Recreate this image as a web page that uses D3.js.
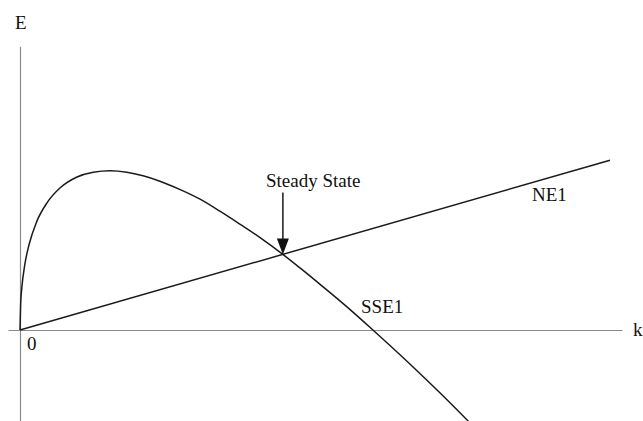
<!DOCTYPE html>
<html>
<head>
<meta charset="utf-8">
<script src="https://cdn.jsdelivr.net/npm/d3@7/dist/d3.min.js"></script>
<style>
  html, body { margin: 0; padding: 0; background: #fff; }
  svg { display: block; }
  text { font-family: "Liberation Serif", "Times New Roman", serif; fill: #111; }
</style>
</head>
<body>
<svg id="chart" width="643" height="421"></svg>
<script>
// Capital per worker (k) and the steady-state curve SSE1
const kValues   = [0, 0.01, 0.03, 0.08, 0.15, 0.28, 0.45, 0.67, 0.95, 1.22, 1.5, 1.78, 2.05, 2.33, 2.67, 3.0, 3.33, 3.67, 4.0, 4.38, 4.67, 5.0, 5.5, 5.88, 6.5, 7.0, 7.47];
const sseValues = [0, 0.42, 0.70, 1.09, 1.42, 1.81, 2.12, 2.37, 2.55, 2.63, 2.655, 2.63, 2.57, 2.48, 2.34, 2.18, 1.98, 1.76, 1.54, 1.26, 1.03, 0.76, 0.34, 0, -0.57, -1.05, -1.52];

// Straight line NE1 through the origin
const neK = [0, 9.83];
const neE = [0, 2.83];

// Steady state: where SSE1 meets NE1
const steadyK = 4.38;
const steadyE = 1.26;

// Axis extents and labels
const kDomain = [-0.2, 10.03];
const eDomain = [-1.52, 4.73];
const axisLabels = { x: "k", y: "E", origin: "0" };
const curveLabels = ["SSE1", "NE1", "Steady State"];

const svg = d3.select("#chart");

const x = d3.scaleLinear().domain(kDomain).range([8, 622]);
const y = d3.scaleLinear().domain(eDomain).range([421.2, 46.2]);

// Axes as plain lines through the origin
svg.append("g")
  .attr("transform", `translate(0,${y(0)})`)
  .call(d3.axisBottom(x).tickValues([]).tickSizeOuter(0))
  .call(g => g.select(".domain").attr("stroke", "#8a8a8a").attr("stroke-width", 1.2));

svg.append("g")
  .attr("transform", `translate(${x(0)},0)`)
  .call(d3.axisLeft(y).tickValues([]).tickSizeOuter(0))
  .call(g => g.select(".domain").attr("stroke", "#8a8a8a").attr("stroke-width", 1.2));

const curveLine = d3.line()
  .x(d => x(d[0]))
  .y(d => y(d[1]))
  .curve(d3.curveMonotoneX);

const straightLine = d3.line()
  .x(d => x(d[0]))
  .y(d => y(d[1]));

// SSE1 curve
svg.append("path")
  .datum(kValues.map((k, i) => [k, sseValues[i]]))
  .attr("fill", "none")
  .attr("stroke", "#1a1a1a")
  .attr("stroke-width", 1.5)
  .attr("d", curveLine);

// NE1 line
svg.append("path")
  .datum(neK.map((k, i) => [k, neE[i]]))
  .attr("fill", "none")
  .attr("stroke", "#1a1a1a")
  .attr("stroke-width", 1.5)
  .attr("d", straightLine);

// Arrow pointing down to the steady state
const sx = x(steadyK), sy = y(steadyE);
svg.append("line")
  .attr("x1", sx).attr("x2", sx)
  .attr("y1", sy - 62).attr("y2", sy - 14)
  .attr("stroke", "#1a1a1a")
  .attr("stroke-width", 1.5);
svg.append("path")
  .attr("d", `M${sx - 6},${sy - 16} L${sx + 6},${sy - 16} L${sx},${sy} Z`)
  .attr("fill", "#111");

// Labels
const fs = "19px";
svg.append("text").attr("x", 15).attr("y", 29).attr("font-size", fs).text(axisLabels.y);
svg.append("text").attr("x", 633).attr("y", 336).attr("font-size", fs).text(axisLabels.x);
svg.append("text").attr("x", x(0) + 7).attr("y", 350).attr("font-size", fs).text(axisLabels.origin);
svg.append("text").attr("x", 361).attr("y", 313).attr("font-size", fs).text(curveLabels[0]);
svg.append("text").attr("x", 532).attr("y", 201).attr("font-size", fs).text(curveLabels[1]);
svg.append("text").attr("x", 266).attr("y", 187).attr("font-size", fs).text(curveLabels[2]);
</script>
</body>
</html>
